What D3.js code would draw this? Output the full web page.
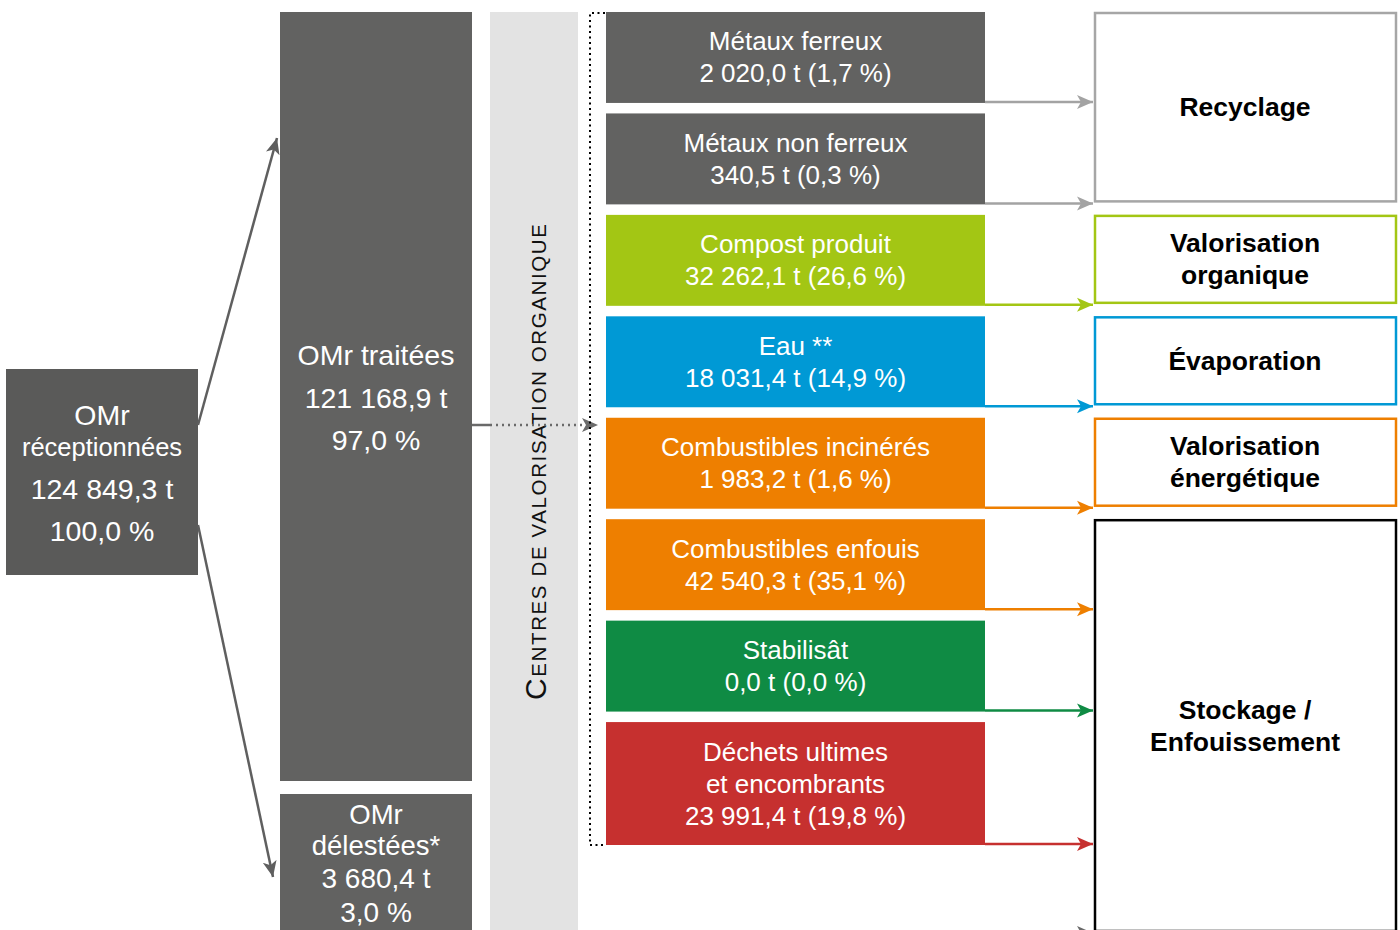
<!DOCTYPE html>
<html>
<head>
<meta charset="utf-8">
<script src="https://cdn.jsdelivr.net/npm/d3@7"></script>
<style>
  body { margin: 0; background: #fff; }
  svg { font-family: 'Liberation Sans', Arial, sans-serif; }
</style>
</head>
<body>
<div id="chart"></div>
<script>
// data
var categories = ['Métaux ferreux', 'Métaux non ferreux', 'Compost produit', 'Eau **',
    'Combustibles incinérés', 'Combustibles enfouis', 'Stabilisât', 'Déchets ultimes|et encombrants'];
var tonnes = [2020.0, 340.5, 32262.1, 18031.4, 1983.2, 42540.3, 0.0, 23991.4];
var shares = [1.7, 0.3, 26.6, 14.9, 1.6, 35.1, 0.0, 19.8];
var colors = ['#626261', '#626261', '#a3c614', '#0099d5', '#ee7f00', '#ee7f00', '#0f8b44', '#c6302f'];
var arrowColors = ['#a3a3a3', '#a3a3a3', '#a3c614', '#0099d5', '#ee7f00', '#ee7f00', '#0f8b44', '#c6302f'];

var destinations = ['Recyclage', 'Valorisation|organique', 'Évaporation', 'Valorisation|énergétique', 'Stockage /|Enfouissement'];
var destRows = [[0, 1], [2], [3], [4], [5, 6, 7]];
var destColors = ['#a6a6a6', '#a3c614', '#0099d5', '#ee7f00', '#000000'];

var received = { label: ['OMr', 'réceptionnées'], t: 124849.3, pct: 100.0 };
var treated = { label: ['OMr traitées'], t: 121168.9, pct: 97.0 };
var shed = { label: ['OMr', 'délestées*'], t: 3680.4, pct: 3.0 };
var centreLabel = 'Centres de valorisation organique';

// french number format
var fr = d3.formatLocale({ decimal: ',', thousands: '\u00a0', grouping: [3], currency: ['', ' €'] });
var fmtT = fr.format(',.1f');
var fmtP = fr.format('.1f');

var width = 1400, height = 930;
var svg = d3.select('#chart').append('svg')
    .attr('width', width)
    .attr('height', height);

// arrow markers
var defs = svg.append('defs');
function marker(id, color) {
    defs.append('marker')
        .attr('id', id)
        .attr('viewBox', '-16 -8 17 16')
        .attr('refX', 0)
        .attr('refY', 0)
        .attr('markerWidth', 17)
        .attr('markerHeight', 16)
        .attr('markerUnits', 'userSpaceOnUse')
        .attr('orient', 'auto')
        .append('path')
        .attr('d', 'M-16,-7L0,0L-16,7L-12,0Z')
        .attr('fill', color);
}
var markerIds = {};
d3.union(arrowColors, ['#5f5f5f', '#6a6a6a']).forEach(function(c, i) {
    markerIds[c] = 'arr' + i;
    marker('arr' + i, c);
});

// row layout: label lines + one value line, 32px per line
var lines = categories.map(d => d.split('|').length + 1);
var gap = 10.5;
var units = [];
var acc = 0;
lines.forEach(function(n) {
    var h = 27 + 32 * n;
    units.push({ y0: acc, y1: acc + h });
    acc += h + gap;
});
var y = d3.scaleLinear().domain([0, acc - gap]).range([12, 845]);
var x = d3.scaleLinear().domain([0, 1]).range([606, 985]);

// grey band behind the centre label
svg.append('rect')
    .attr('x', 490).attr('y', 12)
    .attr('width', 88).attr('height', height - 12)
    .attr('fill', '#e3e3e3');

// white text lines in a box
function boxText(g, cx, rows) {
    rows.forEach(function(r) {
        g.append('text')
            .attr('x', cx).attr('y', r.y)
            .attr('text-anchor', 'middle')
            .attr('dominant-baseline', 'central')
            .attr('fill', '#fff')
            .style('font-size', r.size + 'px')
            .text(r.text);
    });
}
var gLeft = svg.append('g');
gLeft.append('rect').attr('x', 6).attr('y', 369).attr('width', 192).attr('height', 206).attr('fill', '#5a5a59');
boxText(gLeft, 102, [
    { text: received.label[0], y: 415, size: 28.5 },
    { text: received.label[1], y: 447, size: 25.5 },
    { text: fmtT(received.t) + ' t', y: 489, size: 28.5 },
    { text: fmtP(received.pct) + ' %', y: 531, size: 28.5 }
]);

var gTreat = svg.append('g');
gTreat.append('rect').attr('x', 280).attr('y', 12).attr('width', 192).attr('height', 769).attr('fill', '#626261');
boxText(gTreat, 376, [
    { text: treated.label[0], y: 355, size: 28.5 },
    { text: fmtT(treated.t) + ' t', y: 398, size: 28.5 },
    { text: fmtP(treated.pct) + ' %', y: 440, size: 28.5 }
]);

var gShed = svg.append('g');
gShed.append('rect').attr('x', 280).attr('y', 794).attr('width', 192).attr('height', 140).attr('fill', '#626261');
boxText(gShed, 376, [
    { text: shed.label[0], y: 814, size: 27.5 },
    { text: shed.label[1], y: 845, size: 27.5 },
    { text: fmtT(shed.t) + ' t', y: 878, size: 28 },
    { text: fmtP(shed.pct) + ' %', y: 912, size: 28 }
]);

// arrows from received box
svg.append('line')
    .attr('x1', 198).attr('y1', 425).attr('x2', 277).attr('y2', 138)
    .attr('stroke', '#5f5f5f').attr('stroke-width', 2.5)
    .attr('marker-end', 'url(#' + markerIds['#5f5f5f'] + ')');
svg.append('line')
    .attr('x1', 198).attr('y1', 525).attr('x2', 273).attr('y2', 877)
    .attr('stroke', '#5f5f5f').attr('stroke-width', 2.5)
    .attr('marker-end', 'url(#' + markerIds['#5f5f5f'] + ')');

// vertical centre label, small caps
var vt = svg.append('text')
    .attr('transform', 'translate(546,462) rotate(-90)')
    .attr('text-anchor', 'middle')
    .attr('fill', '#111')
    .attr('textLength', 476)
    .attr('lengthAdjust', 'spacing');
vt.append('tspan').style('font-size', '30px').text(centreLabel[0].toUpperCase());
vt.append('tspan').style('font-size', '20.5px').text(centreLabel.slice(1).toUpperCase());

// treated -> centres arrow
svg.append('line')
    .attr('x1', 472).attr('y1', 425).attr('x2', 490).attr('y2', 425)
    .attr('stroke', '#6a6a6a').attr('stroke-width', 2.5);
svg.append('line')
    .attr('x1', 490).attr('y1', 425).attr('x2', 598).attr('y2', 425)
    .attr('stroke', '#6a6a6a').attr('stroke-width', 2.5)
    .attr('stroke-dasharray', '2,4')
    .attr('marker-end', 'url(#' + markerIds['#6a6a6a'] + ')');

// dotted bracket
svg.append('path')
    .attr('d', 'M605,' + (y(0) + 1) + 'H590V' + y(units[units.length - 1].y1) + 'H605')
    .attr('fill', 'none')
    .attr('stroke', '#000')
    .attr('stroke-width', 2)
    .attr('stroke-dasharray', '2,3.5');

// category boxes
var rows = svg.selectAll('g.cat')
    .data(categories)
    .enter()
    .append('g')
    .classed('cat', true);

rows.append('rect')
    .attr('x', x(0))
    .attr('y', (d, i) => y(units[i].y0))
    .attr('width', x(1) - x(0))
    .attr('height', (d, i) => y(units[i].y1) - y(units[i].y0))
    .attr('fill', (d, i) => colors[i]);

rows.each(function(d, i) {
    var parts = d.split('|').concat([fmtT(tonnes[i]) + ' t (' + fmtP(shares[i]) + ' %)']);
    var cy = (y(units[i].y0) + y(units[i].y1)) / 2;
    var g = d3.select(this);
    parts.forEach(function(p, j) {
        g.append('text')
            .attr('x', (x(0) + x(1)) / 2)
            .attr('y', cy + (j - (parts.length - 1) / 2) * 32)
            .attr('text-anchor', 'middle')
            .attr('dominant-baseline', 'central')
            .attr('fill', '#fff')
            .style('font-size', '26px')
            .text(p);
    });
});

// arrows to destinations
rows.append('line')
    .attr('x1', x(1))
    .attr('x2', 1093)
    .attr('y1', (d, i) => y(units[i].y1) - 1)
    .attr('y2', (d, i) => y(units[i].y1) - 1)
    .attr('stroke', (d, i) => arrowColors[i])
    .attr('stroke-width', 2.5)
    .attr('marker-end', (d, i) => 'url(#' + markerIds[arrowColors[i]] + ')');

// extra arrow coming from below (shed waste)
svg.append('line')
    .attr('x1', x(1)).attr('x2', 1093)
    .attr('y1', 933).attr('y2', 933)
    .attr('stroke', '#6a6a6a').attr('stroke-width', 2.5)
    .attr('marker-end', 'url(#' + markerIds['#6a6a6a'] + ')');

// destination boxes
destinations.forEach(function(name, k) {
    var r = destRows[k];
    var top = y(units[r[0]].y0) + 1;
    var bottom = k === destinations.length - 1 ? 931 : y(units[r[r.length - 1]].y1) - 3;
    var g = svg.append('g');
    g.append('rect')
        .attr('x', 1095).attr('y', top)
        .attr('width', 301).attr('height', bottom - top)
        .attr('fill', '#fff')
        .attr('stroke', destColors[k])
        .attr('stroke-width', 2.5);
    var parts = name.split('|');
    var cy = (top + bottom) / 2;
    parts.forEach(function(p, j) {
        g.append('text')
            .attr('x', 1245)
            .attr('y', cy + (j - (parts.length - 1) / 2) * 32)
            .attr('text-anchor', 'middle')
            .attr('dominant-baseline', 'central')
            .attr('fill', '#000')
            .style('font-size', '26.5px')
            .style('font-weight', 'bold')
            .text(p);
    });
});
</script>
</body>
</html>
